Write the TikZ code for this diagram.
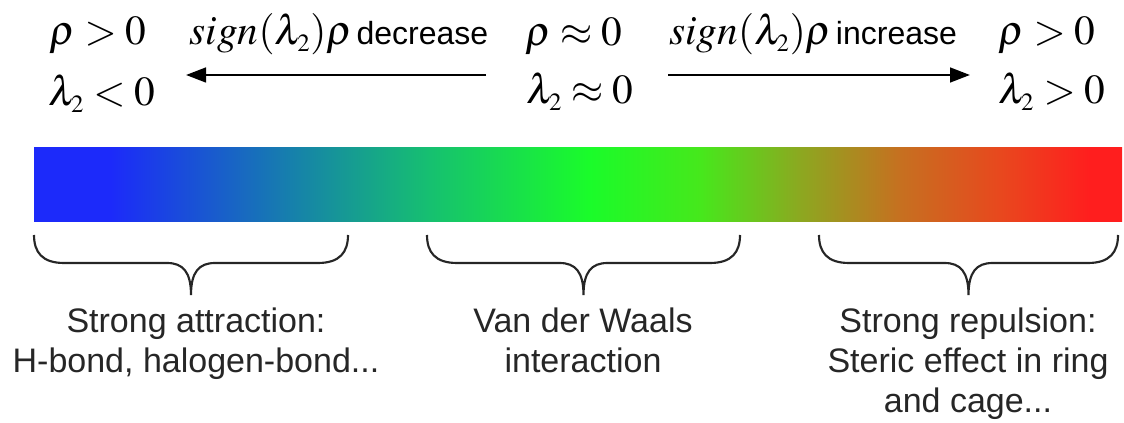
\documentclass[tikz,border=0pt]{standalone}
\usepackage{mathptmx}
\usepackage[no-math]{fontspec}
\setsansfont{Liberation Sans}
\usepackage{tikz}
\usetikzlibrary{arrows.meta}

\definecolor{ncblue}{RGB}{28,42,250}
\definecolor{ncteal}{RGB}{22,132,168}
\definecolor{ncsea}{RGB}{22,192,112}
\definecolor{ncgreen}{RGB}{26,252,42}
\definecolor{nclime}{RGB}{70,232,28}
\definecolor{ncolive}{RGB}{140,168,32}
\definecolor{ncbrown}{RGB}{198,112,32}
\definecolor{ncorange}{RGB}{232,72,30}
\definecolor{ncred}{RGB}{255,30,30}
\pgfdeclarehorizontalshading{ncishade}{100bp}{color(0bp)=(ncblue); color(28.5bp)=(ncblue);
  color(37.2bp)=(ncteal); color(43.2bp)=(ncsea); color(50.5bp)=(ncgreen); color(55.6bp)=(nclime);
  color(60.2bp)=(ncolive); color(64.8bp)=(ncbrown); color(69.4bp)=(ncorange); color(73.5bp)=(ncred);
  color(100bp)=(ncred)}

\begin{document}
\begin{tikzpicture}[
      x=0.75pt, y=-0.75pt,
      mth/.style={anchor=base, inner sep=0pt, font=\fontsize{31}{37}\selectfont},
      trend/.style={anchor=base, inner sep=0pt, font=\fontsize{31}{37}\selectfont},
      lbl/.style={anchor=base, inner sep=0pt, align=center, text=black!85,
                  font=\sffamily\fontsize{25.5}{30}\selectfont},
      arr/.style={-{Triangle[length=15pt,width=11pt]}, line width=1.9pt},
      brc/.style={line width=1.6pt, black!85}
    ]
    \useasboundingbox (0,0) rectangle (1124,423);
    % top row: conditions on rho and lambda2
    \node[mth] (rhol) at (98,45) {$\rho > 0$};
    \node[mth] (laml) at (102,106) {$\lambda_{\scriptscriptstyle 2} < 0$};
    \node[mth] (rhom) at (574,46) {$\rho \approx 0$};
    \node[mth] (lamm) at (580,104) {$\lambda_{\scriptscriptstyle 2} \approx 0$};
    \node[mth] (rhor) at (1047,45) {$\rho > 0$};
    \node[mth] (lamr) at (1052,104) {$\lambda_{\scriptscriptstyle 2} > 0$};
    \node[trend] (dec) at (339,45) {$sign(\lambda_{\scriptscriptstyle 2})\rho$\hspace{3pt}{\sffamily\fontsize{24}{29}\selectfont decrease}};
    \node[trend] (inc) at (813,45) {$sign(\lambda_{\scriptscriptstyle 2})\rho$\hspace{3pt}{\sffamily\fontsize{24}{29}\selectfont increase}};
    \coordinate (decfrom) at (486,75);
    \coordinate (decto) at (186,75);
    \coordinate (incfrom) at (668,75);
    \coordinate (incto) at (970,75);
    \draw[arr] (decfrom) -- (decto);
    \draw[arr] (incfrom) -- (incto);
    % colour bar
    \shade[shading=ncishade] (34,148) rectangle (1122,222);
    % braces
    \foreach \a/\b in {34/348, 427/740, 819/1118} {
      \pgfmathsetmacro{\m}{(\a+\b)/2}
      \draw[brc] (\a,235) .. controls (\a,252) and (\a+8,263) .. (\a+30,263)
        -- (\m-24,263) .. controls (\m-8,263) and (\m,272) .. (\m,295)
        .. controls (\m,272) and (\m+8,263) .. (\m+24,263)
        -- (\b-30,263) .. controls (\b-8,263) and (\b,252) .. (\b,235);
    }
    % labels (base = last line)
    \node[lbl] (attr) at (196,373) {Strong attraction:\\H-bond, halogen-bond...};
    \node[lbl] (vdw) at (583,373) {Van der Waals\\interaction};
    \node[lbl] (rep) at (968,413) {Strong repulsion:\\Steric effect in ring\\and cage...};
  \end{tikzpicture}
\end{document}
